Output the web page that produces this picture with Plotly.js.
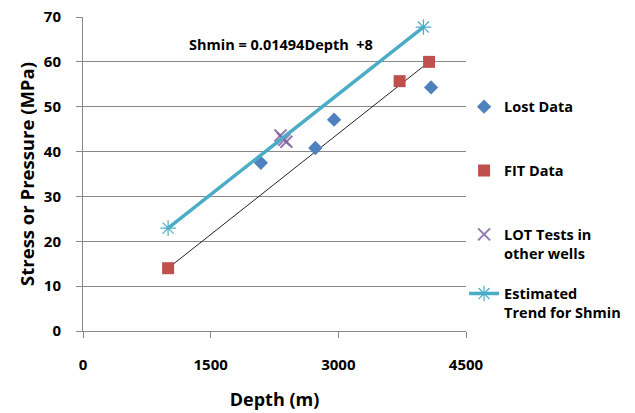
<!DOCTYPE html>
<html>
<head>
<meta charset="utf-8">
<script src="https://cdn.plot.ly/plotly-3.0.1.min.js"></script>
<style>html,body{margin:0;padding:0;background:#fff;}#chart{width:635px;height:413px;}</style>
</head>
<body>
<div id="chart"></div>
<script>
// Data
const lostDepth = [2090, 2730, 2950, 4090];
const lostStress = [37.5, 40.8, 47.1, 54.3];

const fitDepth = [1000, 3720, 4066];
const fitStress = [14, 55.7, 60];

const lotDepth = [2320, 2345, 2365, 2390];
const lotStress = [43.6, 43.0, 42.6, 42.2];

const trendDepth = [1000, 4000];
const trendStress = [22.94, 67.76];

const fitLineDepth = [1000, 4066];
const fitLineStress = [14, 60];

const xTicks = [0, 1500, 3000, 4500];
const yTicks = [0, 10, 20, 30, 40, 50, 60, 70];

const FONT = '"Open Sans", "Noto Sans", "Liberation Sans", sans-serif';

const traces = [
  {x: fitLineDepth, y: fitLineStress, mode: 'lines', line: {color: '#222', width: 1}, showlegend: false, hoverinfo: 'skip'},
  {x: lostDepth, y: lostStress, mode: 'markers', name: 'Lost Data', legendgroup: 'a',
   marker: {symbol: 'diamond', size: 11, color: '#4F81BD'}},
  {x: fitDepth, y: fitStress, mode: 'markers', name: 'FIT Data', legendgroup: 'b',
   marker: {symbol: 'square', size: 12, color: '#C0504D'}},
  {x: lotDepth, y: lotStress, mode: 'markers', name: 'LOT Tests in<br>other wells', legendgroup: 'c',
   marker: {symbol: 'x-thin-open', size: 12, color: 'rgba(128,100,162,0.85)', line: {color: 'rgba(128,100,162,0.85)', width: 2}}},
  {x: trendDepth, y: trendStress, mode: 'lines+markers', name: 'Estimated<br>Trend for Shmin', legend: 'legend2',
   line: {color: '#4BACC6', width: 3.5},
   marker: {symbol: 'asterisk-open', size: 13, color: '#4BACC6', line: {color: '#4BACC6', width: 1.2}}}
];

const legendFont = {family: FONT, size: 14.5, color: '#000', weight: 'bold'};

const layout = {
  width: 635, height: 413,
  margin: {l: 83, r: 169, t: 17, b: 82, autoexpand: false},
  paper_bgcolor: '#fff', plot_bgcolor: '#fff',
  font: {family: FONT, color: '#000'},
  showlegend: true,
  legend: {
    x: 0.995, xanchor: 'left', y: 0.765, yanchor: 'top',
    traceorder: 'grouped', tracegroupgap: 42, valign: 'top',
    font: legendFont, itemwidth: 30, bgcolor: 'rgba(0,0,0,0)'
  },
  legend2: {
    x: 0.995, xanchor: 'left', y: 0.17, yanchor: 'top', valign: 'top',
    font: legendFont, itemwidth: 30, bgcolor: 'rgba(0,0,0,0)'
  },
  xaxis: {
    range: [0, 4500], tickvals: xTicks, ticktext: xTicks.map(String),
    showgrid: false, zeroline: false,
    showline: true, linecolor: '#888', linewidth: 1,
    ticks: 'outside', ticklen: 6, tickcolor: '#888',
    ticklabelstandoff: 14,
    tickfont: {family: FONT, size: 15, weight: 'bold'},
    title: {text: 'Depth (m)', font: {family: FONT, size: 18, weight: 'bold'}, standoff: 20}
  },
  yaxis: {
    range: [0, 70], tickvals: yTicks, ticktext: yTicks.map(String),
    showgrid: true, gridcolor: '#888', gridwidth: 1,
    zeroline: false,
    showline: true, linecolor: '#888', linewidth: 1,
    ticks: 'outside', ticklen: 6, tickcolor: '#888',
    ticklabelstandoff: 12,
    tickfont: {family: FONT, size: 15, weight: 'bold'},
    title: {text: 'Stress or Pressure (MPa)', font: {family: FONT, size: 18.5, weight: 'bold'}, standoff: 4}
  },
  annotations: [{
    text: 'Shmin = 0.01494Depth  +8', x: 2330, y: 63.8, xref: 'x', yref: 'y',
    showarrow: false, font: {family: FONT, size: 14.5, weight: 'bold', color: '#000'}
  }]
};

Plotly.newPlot('chart', traces, layout, {displayModeBar: false, staticPlot: true});
</script>
</body>
</html>
